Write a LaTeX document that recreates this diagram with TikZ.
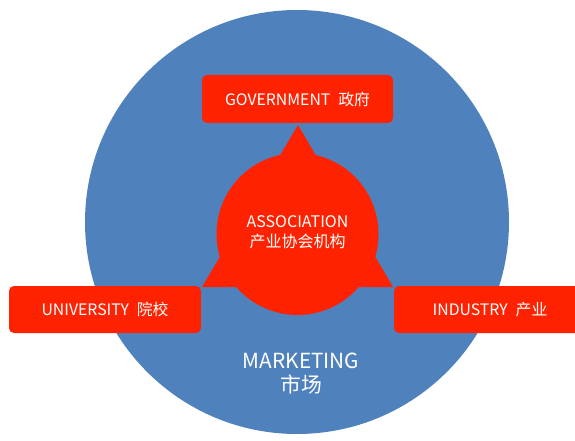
\documentclass[tikz,border=0pt]{standalone}
\usepackage{fontspec}
\setmainfont{Noto Sans CJK SC}
\definecolor{mblue}{HTML}{4F82BD}
\definecolor{mred}{HTML}{FF2200}
\tikzset{
  redbox/.style={rectangle, rounded corners=5pt, fill=mred, text=white, inner sep=0pt,
    minimum width=192pt, minimum height=47pt, font=\fontsize{15.8}{19}\selectfont},
  boxtext/.style={text=white, align=center}
}
\begin{document}
\begin{tikzpicture}[x=1pt,y=-1pt]
\useasboundingbox (0,0) rectangle (575,441);
\clip (0,0) rectangle (575,441);
% outer market circle
\node[circle, fill=mblue, minimum size=424pt, inner sep=0pt] (market) at (297,222) {};
% triangle
\coordinate (tA) at (298,125);
\coordinate (tL) at (202,287);
\coordinate (tR) at (393,287);
\fill[mred] (tA) -- (tL) -- (tR) -- cycle;
% association circle
\node[circle, fill=mred, minimum size=162pt, inner sep=0pt] (assoc) at (297.5,234) {};
\node[boxtext, font=\fontsize{16}{20}\selectfont] (assoctext) at (297.5,232) {ASSOCIATION\\产业协会机构};
% boxes
\node[redbox, minimum width=191pt, minimum height=48pt] (gov) at (297.5,99) {GOVERNMENT\hspace{0.5em}政府};
\node[redbox] (uni) at (105,309.5) {UNIVERSITY\hspace{0.5em}院校};
\node[redbox] (ind) at (490,309.5) {INDUSTRY\hspace{0.5em}产业};
% market label
\node[boxtext, font=\fontsize{20.8}{24}\selectfont] (markettext) at (301,374) {MARKETING\\市场};
\end{tikzpicture}
\end{document}
